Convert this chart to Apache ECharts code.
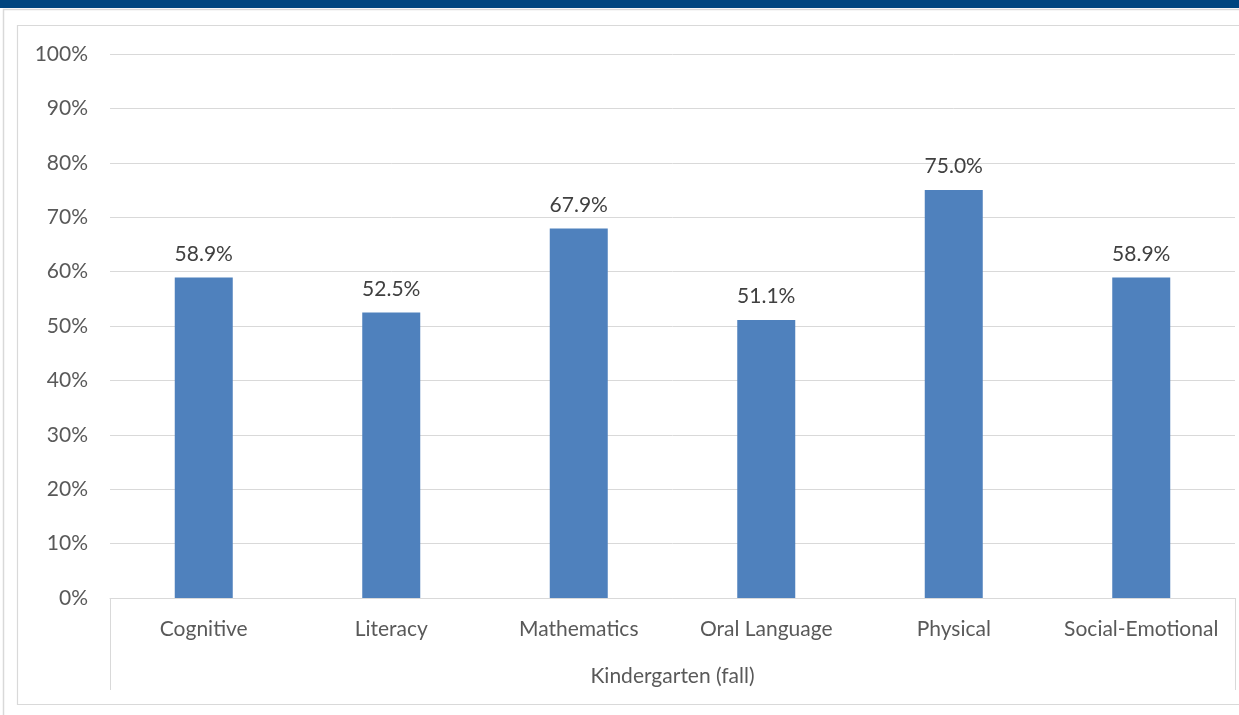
<!DOCTYPE html>
<html>
<head>
<meta charset="utf-8">
<title>Kindergarten (fall)</title>
<script src="https://cdn.jsdelivr.net/npm/echarts@6/dist/echarts.min.js"></script>
<style>
  html, body { margin: 0; padding: 0; background: #fff; }
  #chart { width: 1239px; height: 715px; }
</style>
</head>
<body>
<div id="chart"></div>
<script>
// Share of children meeting expectations, by developmental domain
const categories = ['Cognitive', 'Literacy', 'Mathematics', 'Oral Language', 'Physical', 'Social-Emotional'];
const groupLabel = ['Kindergarten (fall)'];
const percentValues = [58.9, 52.5, 67.9, 51.1, 75.0, 58.9];

const FONT = 'Lato, "Open Sans", "Liberation Sans", sans-serif';
const FS = 21;
const chart = echarts.init(document.getElementById('chart'));

chart.setOption({
  animation: false,
  textStyle: { fontFamily: FONT },
  graphic: [
    // header band
    { type: 'rect', shape: { x: 0, y: 0, width: 1239, height: 8 }, style: { fill: '#00457f' }, z: 10 },
    // outer frame
    { type: 'polyline', shape: { points: [[3.5, 715], [3.5, 9.5], [1239, 9.5]] },
      style: { stroke: '#d9d9d9', lineWidth: 1.5, fill: null }, z: 1 },
    // chart-area frame
    { type: 'rect', shape: { x: 17.5, y: 25.5, width: 1230, height: 679 },
      style: { stroke: '#d9d9d9', lineWidth: 1.2, fill: null }, z: 1 }
  ],
  grid: { left: 110, right: 4, top: 54, bottom: 117, containLabel: false },
  xAxis: [
    {
      type: 'category',
      data: categories,
      position: 'bottom',
      axisLine: { lineStyle: { color: '#d9d9d9', width: 1 } },
      axisTick: { show: false },
      axisLabel: { color: '#595959', fontSize: FS, margin: 21, fontFamily: FONT, interval: 0 }
    },
    {
      type: 'category',
      data: groupLabel,
      position: 'bottom',
      axisLine: { show: false },
      axisTick: { show: true, length: 92, alignWithLabel: false, lineStyle: { color: '#d9d9d9', width: 1 } },
      axisLabel: { color: '#595959', fontSize: FS, margin: 68, fontFamily: FONT }
    }
  ],
  yAxis: {
    type: 'value',
    min: 0,
    max: 100,
    interval: 10,
    axisLine: { show: false },
    axisTick: { show: false },
    splitLine: { lineStyle: { color: '#d9d9d9', width: 1 } },
    axisLabel: { color: '#595959', fontSize: FS, margin: 22, fontFamily: FONT, formatter: '{value}%' }
  },
  series: [
    {
      type: 'bar',
      xAxisIndex: 0,
      data: percentValues,
      barWidth: 58,
      itemStyle: { color: '#4f81bd' },
      label: {
        show: true,
        position: 'top',
        distance: 13,
        color: '#404040',
        fontSize: FS,
        fontFamily: FONT,
        formatter: p => p.value.toFixed(1) + '%'
      }
    }
  ]
});
</script>
</body>
</html>
